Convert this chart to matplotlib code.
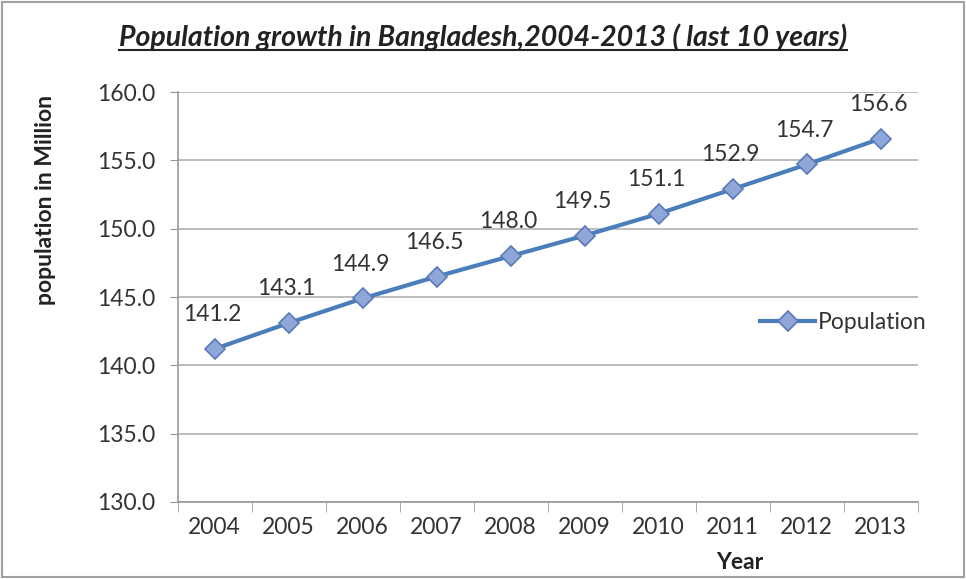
import matplotlib
matplotlib.use("Agg")
import matplotlib.pyplot as plt
from matplotlib.lines import Line2D
from matplotlib.patches import Rectangle
import numpy as np

years = ["2004", "2005", "2006", "2007", "2008", "2009", "2010", "2011", "2012", "2013"]
population = [141.2, 143.1, 144.9, 146.5, 148.0, 149.5, 151.1, 152.9, 154.7, 156.6]
y_ticks = [130, 135, 140, 145, 150, 155, 160]

plt.rcParams['font.family'] = ['Lato', 'DejaVu Sans']

fig = plt.figure(figsize=(9.66, 5.79), dpi=100)
ax = fig.add_axes([0.184, 0.133, 0.766, 0.708])

x = np.arange(len(years))
line_color = "#4A7EBB"
ax.plot(x, population, color=line_color, lw=3, marker="D", markersize=10,
        markerfacecolor="#8FA6D8", markeredgecolor="#5B79B8", markeredgewidth=1.2,
        label="Population", zorder=3)

for xi, v in zip(x, population):
    ax.annotate(f"{v:.1f}", (xi, v), xytext=(-2, 17), textcoords="offset points",
                ha="center", va="bottom", fontsize=16.5, color="#333333")

ax.set_xlim(-0.5, len(years) - 0.5)
ax.set_ylim(130, 160)
ax.set_yticks(y_ticks)
ax.set_yticklabels([f"{t:.1f}" for t in y_ticks], fontsize=16.5, color="#333333")
ax.set_xticks(x)
ax.set_xticklabels(years, fontsize=16.5, color="#333333")
ax.set_xticks(np.arange(-0.5, len(years), 1.0), minor=True)
ax.tick_params(axis="x", which="major", length=0, pad=11)
ax.tick_params(axis="x", which="minor", length=7, color="#999999", direction="out")
ax.tick_params(axis="y", length=6, color="#999999", pad=10)

ax.grid(axis="y", color="#B0B0B0", lw=1.2)
ax.set_axisbelow(True)
for s in ["top", "right"]:
    ax.spines[s].set_visible(False)
for s in ["left", "bottom"]:
    ax.spines[s].set_color("#999999")
    ax.spines[s].set_linewidth(1.2)

leg = ax.legend(loc="center left", bbox_to_anchor=(0.775, 0.437), frameon=False,
                fontsize=16.5, handlelength=2.4, handletextpad=0.1,
                labelcolor="#333333", borderaxespad=0)

fig.text(0.047, 0.655, "population in Million", rotation=90, ha="center", va="center",
         fontsize=16.5, fontweight="bold", color="#222222")
fig.text(0.766, 0.028, "Year", ha="center", va="center",
         fontsize=16.5, fontweight="bold", color="#222222")

title = fig.text(0.5, 0.935, "Population growth in Bangladesh,2004-2013 ( last 10 years)",
                 ha="center", va="center", fontsize=20.5, fontstyle="italic",
                 fontweight="bold", color="#222222")

# underline the title
fig.canvas.draw()
bb = title.get_window_extent(renderer=fig.canvas.get_renderer())
bbf = bb.transformed(fig.transFigure.inverted())
fig.add_artist(Line2D([bbf.x0, bbf.x1], [bbf.y0 + 0.002, bbf.y0 + 0.002],
                      transform=fig.transFigure, color="#222222", lw=1.5))

# outer chart border
fig.add_artist(Rectangle((0.002, 0.003), 0.996, 0.994, transform=fig.transFigure,
                         fill=False, edgecolor="#A0A0A0", lw=1.5))

fig.savefig("out.png", dpi=100)
